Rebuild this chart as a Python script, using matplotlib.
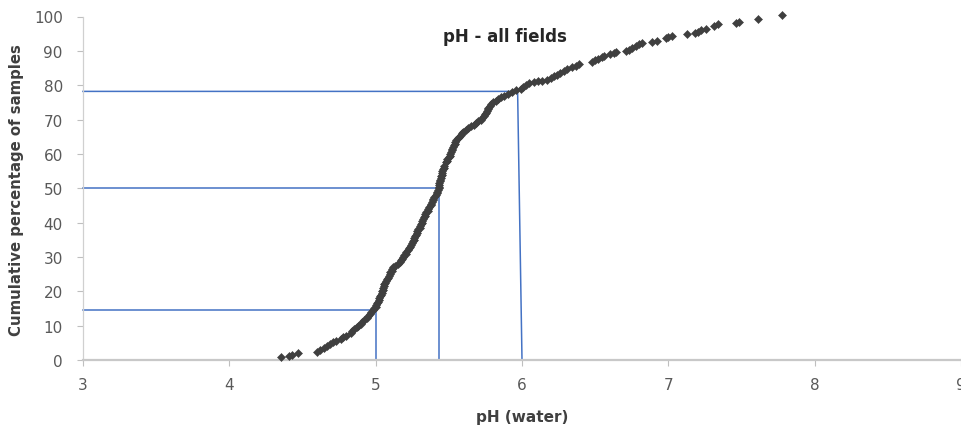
import matplotlib
matplotlib.use('Agg')
import matplotlib.pyplot as plt

# pH of samples, sorted, and cumulative percentage
ph = [
    4.35, 4.41, 4.43, 4.47, 4.60, 4.62, 4.65, 4.67, 4.69, 4.71,
    4.73, 4.76, 4.78, 4.80, 4.83, 4.84, 4.85, 4.87, 4.88, 4.90,
    4.91, 4.92, 4.94, 4.95, 4.96, 4.97, 4.98, 4.99,
    5.00, 5.005, 5.01, 5.015, 5.02, 5.025, 5.03, 5.035, 5.04, 5.045,
    5.05, 5.05, 5.055, 5.06, 5.065, 5.07, 5.08, 5.085, 5.09, 5.095,
    5.10, 5.11, 5.115, 5.12, 5.135, 5.15, 5.165, 5.175, 5.18, 5.19,
    5.195, 5.205, 5.21, 5.22, 5.23, 5.235, 5.24, 5.25, 5.255, 5.26,
    5.265, 5.27, 5.275, 5.28, 5.285, 5.29, 5.30, 5.305, 5.31, 5.315,
    5.32, 5.325, 5.33, 5.335, 5.34, 5.345, 5.355, 5.36, 5.365, 5.375,
    5.38, 5.385, 5.39, 5.395, 5.40, 5.41, 5.42, 5.42, 5.425, 5.43,
    5.43, 5.435, 5.435, 5.44, 5.44, 5.445, 5.445, 5.45, 5.45, 5.455,
    5.46, 5.465, 5.47, 5.48, 5.485, 5.49, 5.50, 5.505, 5.51, 5.515,
    5.52, 5.525, 5.53, 5.535, 5.54, 5.545, 5.55, 5.56, 5.57, 5.58,
    5.59, 5.60, 5.615, 5.63, 5.65, 5.67, 5.685, 5.70, 5.72, 5.73,
    5.74, 5.75, 5.755, 5.76, 5.765, 5.77, 5.78, 5.79, 5.80, 5.82,
    5.835, 5.855, 5.88, 5.905, 5.93, 5.96,
    5.99, 6.01, 6.03, 6.05, 6.08, 6.11, 6.14, 6.17, 6.20, 6.22,
    6.24, 6.26, 6.29, 6.31, 6.34, 6.37, 6.39, 6.48, 6.50, 6.52,
    6.545, 6.56, 6.60, 6.63, 6.645, 6.71, 6.73, 6.755, 6.78, 6.80,
    6.82, 6.89, 6.92, 6.985, 7.00, 7.025, 7.13, 7.18, 7.20, 7.22,
    7.26, 7.315, 7.34, 7.46, 7.485, 7.61, 7.78,
]
pct = [
    1.0, 1.3, 1.6, 2.0, 2.2, 2.8, 3.6, 4.2, 4.8, 5.2,
    5.6, 6.1, 6.6, 7.0, 8.0, 8.5, 9.0, 9.5, 10.0, 10.5,
    11.0, 11.6, 12.2, 12.8, 13.4, 13.9, 14.5, 15.2,
    15.5, 16.0, 16.5, 17.0, 17.5, 18.0, 18.5, 19.0, 19.5, 20.0,
    20.5, 21.0, 21.5, 22.0, 22.5, 23.0, 23.5, 24.0, 24.5, 25.0,
    25.5, 26.0, 26.5, 27.0, 27.5, 28.0, 28.5, 29.0, 29.5, 30.0,
    30.5, 31.0, 31.5, 32.0, 32.5, 33.0, 33.5, 34.0, 34.5, 35.0,
    35.5, 36.0, 36.5, 37.0, 37.5, 38.0, 38.5, 39.0, 39.5, 40.0,
    40.5, 41.0, 41.5, 42.0, 42.5, 43.0, 43.5, 44.0, 44.5, 45.0,
    45.5, 46.0, 46.5, 47.0, 47.5, 48.0, 48.5, 49.0, 49.5, 50.0,
    50.5, 51.0, 51.5, 52.0, 52.5, 53.0, 53.5, 54.0, 54.5, 55.0,
    55.5, 56.0, 56.5, 57.5, 58.0, 58.5, 59.0, 59.5, 60.0, 60.5,
    61.0, 61.5, 62.0, 62.5, 63.0, 63.5, 64.0, 64.5, 65.0, 65.5,
    66.0, 66.5, 67.0, 67.5, 68.0, 68.5, 69.0, 69.5, 70.0, 70.5,
    71.0, 71.5, 72.0, 72.5, 73.0, 73.5, 74.0, 74.5, 75.0, 75.5,
    76.0, 76.5, 77.0, 77.5, 78.0, 78.5,
    79.0, 79.5, 80.0, 80.5, 81.0, 81.2, 81.3, 81.6, 82.1, 82.6,
    83.1, 83.6, 84.1, 84.6, 85.2, 85.7, 86.2, 86.7, 87.2, 87.7,
    88.2, 88.6, 89.0, 89.3, 89.7, 90.0, 90.3, 90.8, 91.4, 91.9,
    92.3, 92.6, 93.0, 93.6, 93.9, 94.4, 94.9, 95.2, 95.6, 96.0,
    96.5, 97.3, 97.8, 98.1, 98.5, 99.3, 100.3,
]

# reference lines: percentile level and the pH where it meets the curve
ref_pct = [14.5, 50, 78.2]
ref_ph_top = [5.0, 5.43, 5.97]
ref_ph_bottom = [5.0, 5.43, 6.0]

x_ticks = [3, 4, 5, 6, 7, 8, 9]
y_ticks = [0, 10, 20, 30, 40, 50, 60, 70, 80, 90, 100]

W, H = 961, 427
fig = plt.figure(figsize=(W / 100, H / 100), dpi=100)
ax = fig.add_axes([83 / W, 1 - 361 / H, 1 - 83 / W, (361 - 17.5) / H])

blue = '#4472C4'
for p, xt, xb in zip(ref_pct, ref_ph_top, ref_ph_bottom):
    ax.plot([3, xt, xb], [p, p, 0], color=blue, lw=1.1, zorder=2, clip_on=False)

ax.plot(ph, pct, ls='none', marker='D', ms=4.3, color='#3f3f3f',
        markeredgewidth=0.4, zorder=3, clip_on=False)

ax.set_xlim(3, 9)
ax.set_ylim(0, 100)
ax.set_xticks(x_ticks)
ax.set_yticks(y_ticks)

for s in ['top', 'right']:
    ax.spines[s].set_visible(False)
ax.spines['left'].set_color('#d0d0d0')
ax.spines['left'].set_linewidth(0.9)
ax.spines['bottom'].set_color('#c8c8c8')
ax.spines['bottom'].set_linewidth(1.6)

ax.tick_params(axis='both', direction='out', length=4.5, width=0.8,
               color='#bfbfbf', labelcolor='#595959', labelsize=11)
ax.tick_params(axis='y', pad=10)
ax.tick_params(axis='x', pad=8)

ax.text(0.48, 0.943, 'pH - all fields', transform=ax.transAxes,
        ha='center', va='center', fontsize=12, fontweight='bold', color='#262626')

fig.text(522 / W, 1 - 418 / H, 'pH (water)', ha='center', va='center',
         fontsize=11, fontweight='bold', color='#404040')
fig.text(17 / W, 1 - 190 / H, 'Cumulative percentage of samples', rotation=90,
         ha='center', va='center', fontsize=10.7, fontweight='bold', color='#404040')

fig.savefig('out.png', dpi=100)
